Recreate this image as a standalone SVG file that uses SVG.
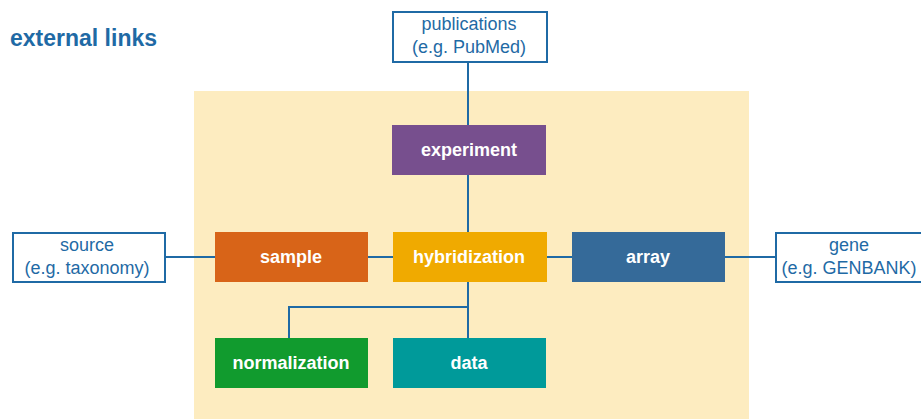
<svg xmlns="http://www.w3.org/2000/svg" width="921" height="419" viewBox="0 0 921 419">
<style>
.ext{fill:#fff;stroke:#1f6aa5;stroke-width:2}
.extt{font-family:"Liberation Sans",Arial,sans-serif;font-size:18px;fill:#1f6aa5;text-anchor:middle}
.nt{font-family:"Liberation Sans",Arial,sans-serif;font-size:18px;font-weight:bold;fill:#fff;text-anchor:middle}
.c{stroke:#1f6aa5;stroke-width:2;fill:none}
</style>
<rect x="194" y="91" width="555" height="328" fill="#fdecc0"/>
<text x="10" y="46" font-family="Liberation Sans,Arial,sans-serif" font-size="23" font-weight="bold" fill="#1f6aa5">external links</text>
<g id="connectors">
<path class="c" d="M468 62V125M468 175V232M468 282V338M468 307H289V338M165 257H215M368 257H393M547 257H572M725 257H776"/>
</g>
<g id="publications"><rect class="ext" x="393" y="12" width="154" height="50"/><text class="extt" x="469" y="30">publications</text><text class="extt" x="469" y="53">(e.g. PubMed)</text></g>
<g id="source"><rect class="ext" x="13" y="233" width="152" height="49"/><text class="extt" x="87" y="251">source</text><text class="extt" x="87" y="274">(e.g. taxonomy)</text></g>
<g id="gene"><rect class="ext" x="776" y="233" width="150" height="49"/><text class="extt" x="849" y="251">gene</text><text class="extt" x="849" y="274">(e.g. GENBANK)</text></g>
<g id="experiment"><rect x="392" y="125" width="154" height="50" fill="#774f8e"/><text class="nt" x="469" y="156">experiment</text></g>
<g id="sample"><rect x="215" y="232" width="153" height="50" fill="#d86418"/><text class="nt" x="291" y="263">sample</text></g>
<g id="hybridization"><rect x="393" y="232" width="154" height="50" fill="#f0aa00"/><text class="nt" x="469" y="263">hybridization</text></g>
<g id="array"><rect x="572" y="232" width="153" height="50" fill="#356a99"/><text class="nt" x="648" y="263">array</text></g>
<g id="normalization"><rect x="215" y="338" width="153" height="50" fill="#119b2e"/><text class="nt" x="291" y="369">normalization</text></g>
<g id="data"><rect x="393" y="338" width="153" height="50" fill="#009a9a"/><text class="nt" x="469" y="369">data</text></g>
</svg>
